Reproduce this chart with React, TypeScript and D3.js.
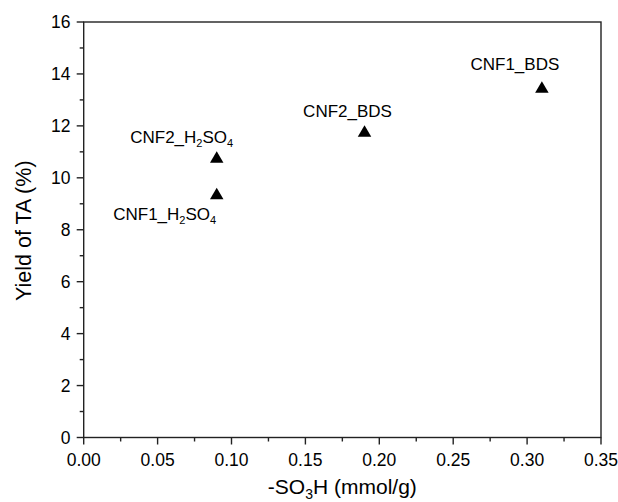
import React from "react";
import * as d3 from "d3";

// Sample names, -SO3H content (mmol/g) and TA yield (%)
const samples = ["CNF1_H2SO4", "CNF2_H2SO4", "CNF2_BDS", "CNF1_BDS"];
const acidity = [0.09, 0.09, 0.19, 0.31];
const yieldTA = [9.4, 10.8, 11.8, 13.5];

const xTicks = [0, 0.05, 0.1, 0.15, 0.2, 0.25, 0.3, 0.35];
const yTicks = [0, 2, 4, 6, 8, 10, 12, 14, 16];

const W = 618;
const H = 502;
const left = 83.7;
const right = 601;
const top = 22;
const bottom = 437.5;

const FONT = "Arial, 'Liberation Sans', Helvetica, sans-serif";
const INK = "#222";

// Label placement relative to each point (anchor middle offsets)
const labelOffsets: Record<string, [number, number]> = {
  CNF1_H2SO4: [-52, 27],
  CNF2_H2SO4: [-35, -14],
  CNF2_BDS: [-17, -14],
  CNF1_BDS: [-27, -17],
};

function SubLabel({ name, x, y, size }: { name: string; x: number; y: number; size: number }) {
  // Render "H2SO4" with subscript digits
  const m = name.match(/^(.*_)H2SO4$/);
  if (!m) {
    return (
      <text x={x} y={y} textAnchor="middle" fontSize={size} fontFamily={FONT} fill="#000">
        {name}
      </text>
    );
  }
  const sub = size * 0.65;
  return (
    <text x={x} y={y} textAnchor="middle" fontSize={size} fontFamily={FONT} fill="#000">
      {m[1]}H
      <tspan fontSize={sub} dy={4}>2</tspan>
      <tspan dy={-4}>SO</tspan>
      <tspan fontSize={sub} dy={4}>4</tspan>
    </text>
  );
}

export default function App() {
  const x = d3.scaleLinear().domain([0, 0.35]).range([left, right]);
  const y = d3.scaleLinear().domain([0, 16]).range([bottom, top]);

  const xMinor = d3.range(0, 7).map((i) => 0.025 + i * 0.05);
  const yMinor = d3.range(0, 8).map((i) => 1 + i * 2);

  const triW = 13.5;
  const triH = 11.5;
  const tri = (cx: number, cy: number) =>
    `M${cx},${cy - triH / 2}L${cx + triW / 2},${cy + triH / 2}L${cx - triW / 2},${cy + triH / 2}Z`;

  return (
    <svg
      width={W}
      height={H}
      style={{ position: "absolute", left: 0, top: 0, background: "#fff" }}
    >
      <rect x={0} y={0} width={W} height={H} fill="#fff" />
      {/* frame */}
      <rect
        x={left}
        y={top}
        width={right - left}
        height={bottom - top}
        fill="none"
        stroke={INK}
        strokeWidth={1.4}
      />
      {/* x ticks */}
      {xTicks.map((t) => (
        <g key={"xt" + t}>
          <line x1={x(t)} x2={x(t)} y1={bottom} y2={bottom + 7} stroke={INK} strokeWidth={1.4} />
          <text
            x={x(t)}
            y={465.5}
            textAnchor="middle"
            fontSize={17.5}
            fontFamily={FONT}
            fill="#000"
          >
            {d3.format(".2f")(t)}
          </text>
        </g>
      ))}
      {xMinor.map((t) => (
        <line key={"xm" + t} x1={x(t)} x2={x(t)} y1={bottom} y2={bottom + 4} stroke={INK} strokeWidth={1.4} />
      ))}
      {/* y ticks */}
      {yTicks.map((t) => (
        <g key={"yt" + t}>
          <line x1={left - 7} x2={left} y1={y(t)} y2={y(t)} stroke={INK} strokeWidth={1.4} />
          <text
            x={70.5}
            y={y(t) + 6}
            textAnchor="end"
            fontSize={17.5}
            fontFamily={FONT}
            fill="#000"
          >
            {t}
          </text>
        </g>
      ))}
      {yMinor.map((t) => (
        <line key={"ym" + t} x1={left - 4} x2={left} y1={y(t)} y2={y(t)} stroke={INK} strokeWidth={1.4} />
      ))}
      {/* markers */}
      {samples.map((s, i) => (
        <path key={s} d={tri(x(acidity[i]), y(yieldTA[i]))} fill="#000" />
      ))}
      {/* point labels */}
      {samples.map((s, i) => {
        const [dx, dy] = labelOffsets[s];
        return <SubLabel key={"l" + s} name={s} x={x(acidity[i]) + dx} y={y(yieldTA[i]) + dy} size={17} />;
      })}
      {/* axis titles */}
      <text
        x={(left + right) / 2}
        y={494}
        textAnchor="middle"
        fontSize={21}
        fontFamily={FONT}
        fill="#000"
      >
        -SO
        <tspan fontSize={14} dy={5}>3</tspan>
        <tspan dy={-5}>H (mmol/g)</tspan>
      </text>
      <text
        transform={`translate(31,${(top + bottom) / 2 + 1}) rotate(-90)`}
        textAnchor="middle"
        fontSize={21.5}
        fontFamily={FONT}
        fill="#000"
      >
        Yield of TA (%)
      </text>
    </svg>
  );
}
